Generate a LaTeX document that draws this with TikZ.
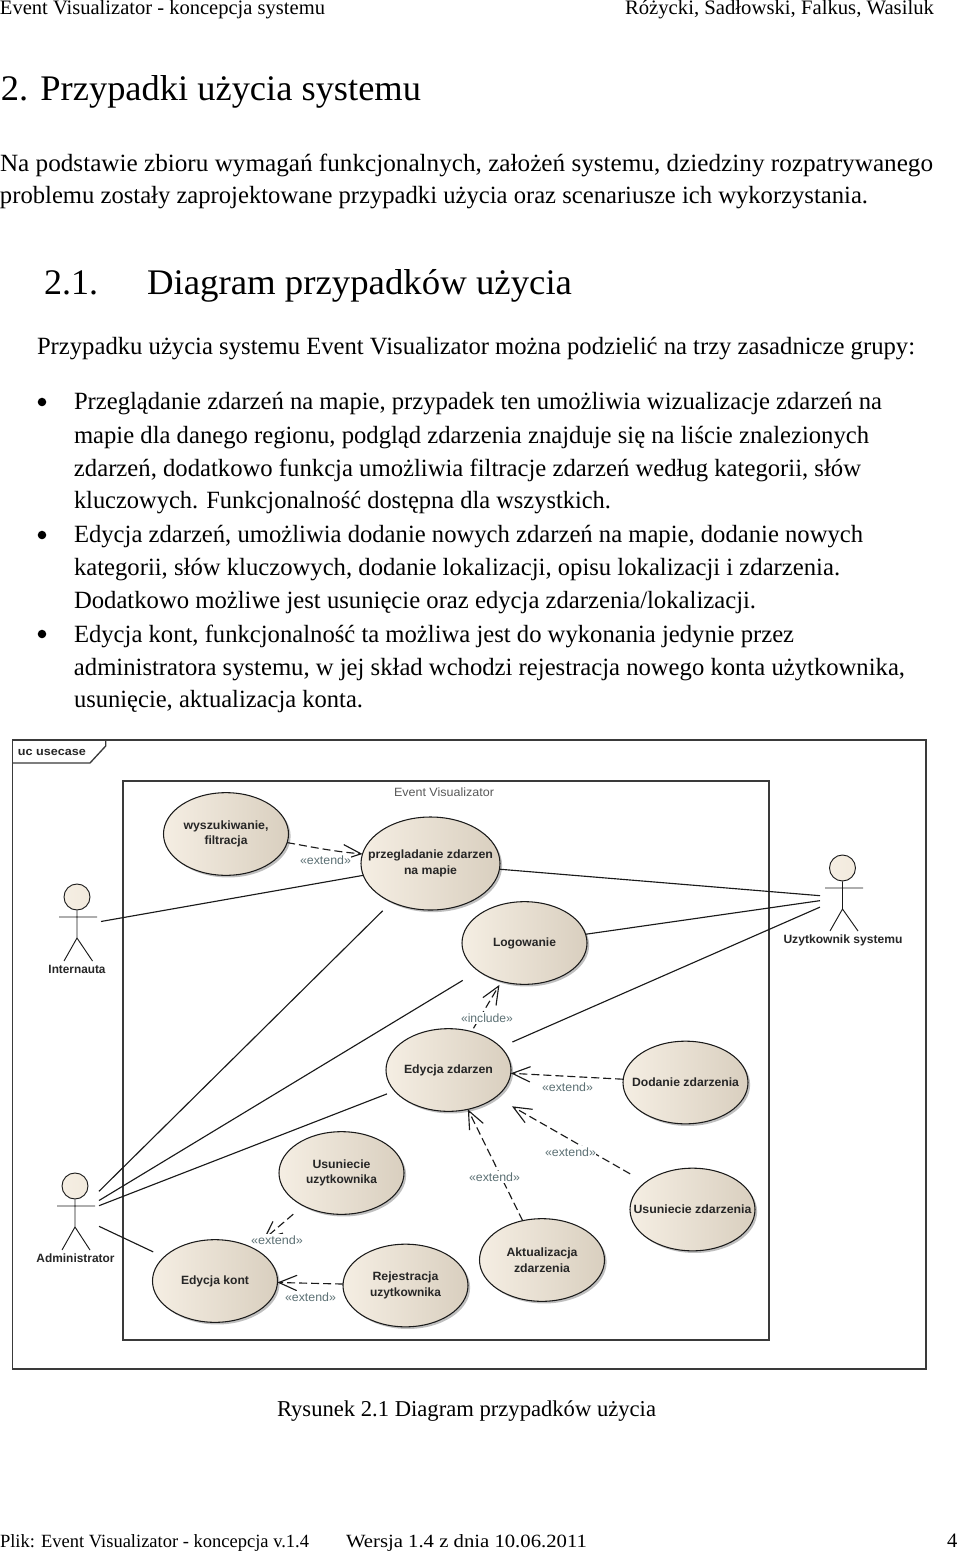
\documentclass[tikz,border=0pt]{standalone}
\usepackage{fontspec}
\usepackage{graphicx}
\setmainfont{Liberation Serif}
\newfontfamily\dgfont{Liberation Sans}
\usetikzlibrary{arrows.meta,shapes.geometric,shadows}
\newdimen\pxu \pxu=0.75pt
\newcommand{\fitw}[2]{\resizebox{#1\pxu}{\height}{#2}}
\newcommand{\ctrw}[2]{\makebox[0pt][c]{\fitw{#1}{#2}}}
\definecolor{lineink}{HTML}{1A1A1A}
\definecolor{frameink}{HTML}{3A3A3A}
\definecolor{labelink}{HTML}{5C7074}
\definecolor{textink}{HTML}{262626}
\tikzset{
  pagetext/.style={anchor=base west,inner sep=0pt,outer sep=0pt,text=black},
  hdr/.style={pagetext,font=\fontsize{15.4pt}{18pt}\selectfont},
  foot/.style={pagetext,font=\fontsize{14pt}{17pt}\selectfont},
  bigt/.style={pagetext,font=\fontsize{27pt}{30pt}\selectfont},
  bodyt/.style={pagetext,font=\fontsize{18.6pt}{22pt}\selectfont},
  capt/.style={pagetext,font=\fontsize{17pt}{20pt}\selectfont},
  usecase/.style={ellipse,draw=lineink,line width=0.8pt,inner sep=0pt,outer sep=0pt,
    minimum width=93.75pt,minimum height=62pt,
    left color=ucleft,middle color=ucmid,right color=ucright,
    drop shadow={shadow xshift=1.6pt,shadow yshift=-1.6pt,opacity=0.55,fill=black!45},
    align=center,text=textink,font=\dgfont\bfseries\fontsize{9pt}{11.7pt}\selectfont},
  actorbox/.style={rectangle,inner sep=0pt,outer sep=0pt,minimum height=75pt},
  head/.style={circle,draw=lineink,line width=0.7pt,inner sep=0pt,minimum size=19.5pt,
    left color=ucleft,right color=ucmid},
  stick/.style={draw=lineink,line width=0.7pt},
  actorlabel/.style={inner sep=0pt,text=textink,font=\dgfont\bfseries\fontsize{9pt}{11pt}\selectfont},
  assoc/.style={draw=lineink,line width=0.85pt},
  dep/.style={draw=lineink,line width=0.85pt,dash pattern=on 6pt off 3pt,
    -{Straight Barb[length=13.5pt,width=11.5pt]}},
  stereo/.style={fill=white,inner xsep=0pt,inner ysep=1.5pt,text=labelink,
    font=\dgfont\fontsize{9pt}{11pt}\selectfont},
  framebox/.style={draw=frameink,line width=1pt},
}
\definecolor{ucleft}{HTML}{F5EEE3}
\definecolor{ucmid}{HTML}{F2EADD}
\definecolor{ucright}{HTML}{D9CFBF}
\begin{document}
\begin{tikzpicture}[x=0.75pt,y=-0.75pt]
\path[use as bounding box,fill=white] (0,0) rectangle (960,1553);
% page text
\node[hdr] (h1) at (0,14) {\fitw{325}{Event Visualizator - koncepcja systemu}};
\node[hdr] (h2) at (625,14) {\fitw{309}{Różycki, Sadłowski, Falkus, Wasiluk}};
\node[bigt] (title) at (1,100) {\fitw{420}{2. Przypadki użycia systemu}};
\node[bodyt] (p1) at (0,171) {\fitw{933}{Na podstawie zbioru wymagań funkcjonalnych, założeń systemu, dziedziny rozpatrywanego}};
\node[bodyt] (p2) at (0,203) {\fitw{868}{problemu zostały zaprojektowane przypadki użycia oraz scenariusze ich wykorzystania.}};
\node[bigt] (sn) at (44,294) {\fitw{54}{2.1.}};
\node[bigt] (st) at (147,294) {\fitw{425}{Diagram przypadków użycia}};
\node[bodyt] (p3) at (37,354) {\fitw{878}{Przypadku użycia systemu Event Visualizator można podzielić na trzy zasadnicze grupy:}};
\fill (42,402) circle[radius=3.2pt];
\fill (42,535) circle[radius=3.2pt];
\fill (42,634) circle[radius=3.2pt];
\node[bodyt] (b1) at (74,409) {\fitw{808}{Przeglądanie zdarzeń na mapie, przypadek ten umożliwia wizualizacje zdarzeń na}};
\node[bodyt] (b2) at (74,443) {\fitw{795}{mapie dla danego regionu, podgląd zdarzenia znajduje się na liście znalezionych}};
\node[bodyt] (b3) at (74,476) {\fitw{787}{zdarzeń, dodatkowo funkcja umożliwia filtracje zdarzeń według kategorii, słów}};
\node[bodyt] (b4) at (74,508) {\fitw{537}{kluczowych. Funkcjonalność dostępna dla wszystkich.}};
\node[bodyt] (b5) at (74,542) {\fitw{789}{Edycja zdarzeń, umożliwia dodanie nowych zdarzeń na mapie, dodanie nowych}};
\node[bodyt] (b6) at (74,575) {\fitw{766}{kategorii, słów kluczowych, dodanie lokalizacji, opisu lokalizacji i zdarzenia.}};
\node[bodyt] (b7) at (74,608) {\fitw{682}{Dodatkowo możliwe jest usunięcie oraz edycja zdarzenia/lokalizacji.}};
\node[bodyt] (b8) at (74,642) {\fitw{720}{Edycja kont, funkcjonalność ta możliwa jest do wykonania jedynie przez}};
\node[bodyt] (b9) at (74,675) {\fitw{831}{administratora systemu, w jej skład wchodzi rejestracja nowego konta użytkownika,}};
\node[bodyt] (b10) at (74,707) {\fitw{289}{usunięcie, aktualizacja konta.}};
\node[capt] (cap) at (277,1416) {\fitw{379}{Rysunek 2.1 Diagram przypadków użycia}};
\node[foot] (f1) at (0,1547) {\fitw{309}{Plik: Event Visualizator - koncepcja v.1.4}};
\node[foot] (f2) at (346,1547) {\fitw{241}{Wersja 1.4 z dnia 10.06.2011}};
\node[hdr] (f3) at (947,1547) {4};
% frames
\draw[framebox] (12.5,740) rectangle (926,1369);
\draw[framebox] (12.5,763) -- (90,763) -- (105.7,746) -- (105.7,740);
\node[inner sep=0pt,text=textink,font=\dgfont\bfseries\fontsize{8.6pt}{10pt}\selectfont] (uc) at (52,752) {\fitw{68}{uc usecase}};
\draw[framebox,line width=0.9pt] (123,781) rectangle (769,1340);
\node[inner sep=0pt,text=black!65,font=\dgfont\fontsize{9pt}{11pt}\selectfont] (sys) at (444,792.5) {\fitw{100}{Event Visualizator}};
% use cases
\node[usecase] (wy) at (226,834) {\ctrw{85}{wyszukiwanie,}\\\ctrw{43}{filtracja}};
\node[usecase,minimum width=104.25pt,minimum height=69.75pt] (pz) at (430.5,863.5) {\ctrw{125}{przegladanie zdarzen}\\\ctrw{53}{na mapie}};
\node[usecase] (lg) at (524.5,943) {\ctrw{63}{Logowanie}};
\node[usecase] (ez) at (448.5,1070) {\ctrw{89}{Edycja zdarzen}};
\node[usecase] (dz) at (685.5,1082.5) {\ctrw{107}{Dodanie zdarzenia}};
\node[usecase] (us) at (692.5,1209.5) {\ctrw{118}{Usuniecie zdarzenia}};
\node[usecase] (az) at (542,1260) {\ctrw{71}{Aktualizacja}\\\ctrw{56}{zdarzenia}};
\node[usecase] (rj) at (405.5,1285.5) {\ctrw{66}{Rejestracja}\\\ctrw{71}{uzytkownika}};
\node[usecase] (ek) at (215,1281) {\ctrw{68}{Edycja kont}};
\node[usecase] (uu) at (341.5,1173) {\ctrw{58}{Usuniecie}\\\ctrw{71}{uzytkownika}};
% actors
\node[actorbox,minimum width=36pt] (int) at (77,925.7) {};
\node[head] (inth) at (77,897) {};
\draw[stick] (inth.south) -- (77,938) (59,917) -- (97,917) (64,961) -- (77,938) -- (92.5,961);
\node[actorlabel] (intl) at (77,969) {\fitw{57}{Internauta}};
\node[actorbox,minimum width=33pt] (usr) at (842,897.5) {};
\node[head] (usrh) at (842.5,868) {};
\draw[stick] (usrh.south) -- (842.5,909) (825,888) -- (863,888) (830,931) -- (842.5,909) -- (858,931);
\node[actorlabel] (usrl) at (843,940.5) {\fitw{119}{Uzytkownik systemu}};
\node[actorbox,minimum width=36pt] (adm) at (75,1215) {};
\node[head] (admh) at (75,1186) {};
\draw[stick] (admh.south) -- (75,1227) (57,1206) -- (95,1206) (62,1250) -- (75,1227) -- (90,1250);
\node[actorlabel] (adml) at (75.5,1258.5) {\fitw{78}{Administrator}};
% associations
\draw[assoc] (int) -- (pz);
\draw[assoc] (usr) -- (pz);
\draw[assoc] (usr) -- (lg);
\draw[assoc,shorten >=9.7pt] (usr) -- (ez);
\draw[assoc,shorten >=9.4pt] (adm) -- (pz);
\draw[assoc,shorten >=13.7pt] (adm) -- (lg);
\draw[assoc,shorten >=6.1pt] (adm) -- (ez);
\draw[assoc,shorten >=9pt] (adm) -- (ek);
% dependencies
\draw[dep] (wy.-8) to[out=-10,in=175] (pz.172);
\draw[dep,shorten >=3pt,shorten <=2.9pt] (ez) -- (lg);
\draw[dep] (dz) -- (ez);
\draw[dep,shorten <=13pt,shorten >=14pt] (us) -- (ez);
\draw[dep] (az) -- (ez);
\draw[dep] (rj) -- (ek);
\draw[dep,shorten <=9.8pt,shorten >=9.8pt] (uu) -- (ek);
% stereotype labels
\node[stereo] (l1) at (325.5,860) {\fitw{51}{«extend»}};
\node[stereo] (l2) at (487,1018) {\fitw{52}{«include»}};
\node[stereo] (l3) at (567.5,1087) {\fitw{51}{«extend»}};
\node[stereo] (l4) at (570.5,1152) {\fitw{51}{«extend»}};
\node[stereo] (l5) at (494.5,1177) {\fitw{51}{«extend»}};
\node[stereo] (l6) at (277,1240) {\fitw{52}{«extend»}};
\node[stereo] (l7) at (310.5,1297) {\fitw{51}{«extend»}};
\end{tikzpicture}
\end{document}
